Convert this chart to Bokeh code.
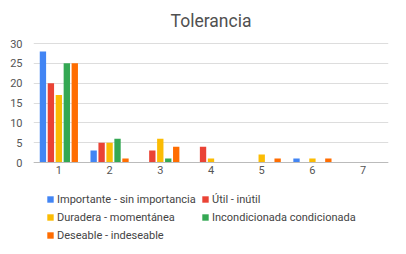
from bokeh.plotting import figure
from bokeh.models import Legend, LegendItem, FixedTicker, ColumnDataSource
from bokeh.transform import dodge
from bokeh.embed import file_html
from bokeh.resources import INLINE

categories = [1, 2, 3, 4, 5, 6, 7]
importante = [28, 3, 0, 0, 0, 1, 0]
util = [20, 5, 3, 4, 0, 0, 0]
duradera = [17, 5, 6, 1, 2, 1, 0]
incondicionada = [25, 6, 1, 0, 0, 0, 0]
deseable = [25, 1, 4, 0, 1, 1, 0]
series_names = ["Importante - sin importancia", "Útil - inútil", "Duradera - momentánea",
                "Incondicionada condicionada", "Deseable - indeseable"]
colors = ["#4285F4", "#EA4335", "#FBBC04", "#34A853", "#FF6D01"]
y_ticks = [0, 5, 10, 15, 20, 25, 30]

src = ColumnDataSource(dict(x=categories, s0=importante, s1=util, s2=duradera,
                            s3=incondicionada, s4=deseable))

# plot area: 119 px for 0..30, 8 px of headroom, 83 px below zero for labels + legend
plot_px = 119
top_px = 8
extra_px = 83
ymax = 30
y_hi = ymax + ymax * top_px / plot_px
y_lo = -ymax * extra_px / plot_px

p = figure(frame_width=355, frame_height=top_px + plot_px + extra_px, output_backend="svg",
           toolbar_location=None, x_range=(0.5, 7.5), y_range=(y_lo, y_hi),
           min_border_left=33, min_border_right=10, min_border_top=35, min_border_bottom=0)
p.title.text = "Tolerancia"
p.title.align = "center"
p.title.text_font = "Roboto"
p.title.text_font_size = "17.5px"
p.title.text_font_style = "normal"
p.title.text_color = "#505050"

step = 0.157
w = 0.125
renderers = []
for i, name in enumerate(series_names):
    r = p.vbar(x=dodge("x", (i - 2) * step, range=p.x_range), top="s%d" % i, width=w,
               source=src, color=colors[i], line_color=None)
    renderers.append(r)

p.xaxis.ticker = FixedTicker(ticks=categories)
p.yaxis.ticker = FixedTicker(ticks=y_ticks)
p.xaxis.fixed_location = 0
for ax in (p.xaxis[0], p.yaxis[0]):
    ax.major_tick_line_color = None
    ax.minor_tick_line_color = None
    ax.major_label_text_font = "Roboto"
    ax.major_label_text_font_size = "11px"
    ax.major_label_text_color = "#555555"
p.yaxis.axis_line_color = None
p.xaxis.axis_line_color = "#bbbbbb"
p.yaxis.major_label_standoff = 5
p.xaxis.major_label_standoff = -3
p.xgrid.grid_line_color = None
p.ygrid.grid_line_color = "#dddddd"
p.outline_line_color = None

order = [0, 2, 4, 1, 3]
items = [LegendItem(label=series_names[k], renderers=[renderers[k]]) for k in order]
legend = Legend(items=items, ncols=2, location=(13, 2))
legend.label_text_font = "Roboto"
legend.label_text_font_size = "11px"
legend.label_text_color = "#444444"
legend.glyph_width = 8
legend.glyph_height = 8
legend.label_standoff = 3
legend.label_width = 142
legend.spacing = 2
legend.padding = 2
legend.margin = 0
legend.border_line_color = None
legend.background_fill_alpha = 0
legend.label_height = 16
p.add_layout(legend, "center")

open("out.html", "w").write(file_html(p, INLINE))
